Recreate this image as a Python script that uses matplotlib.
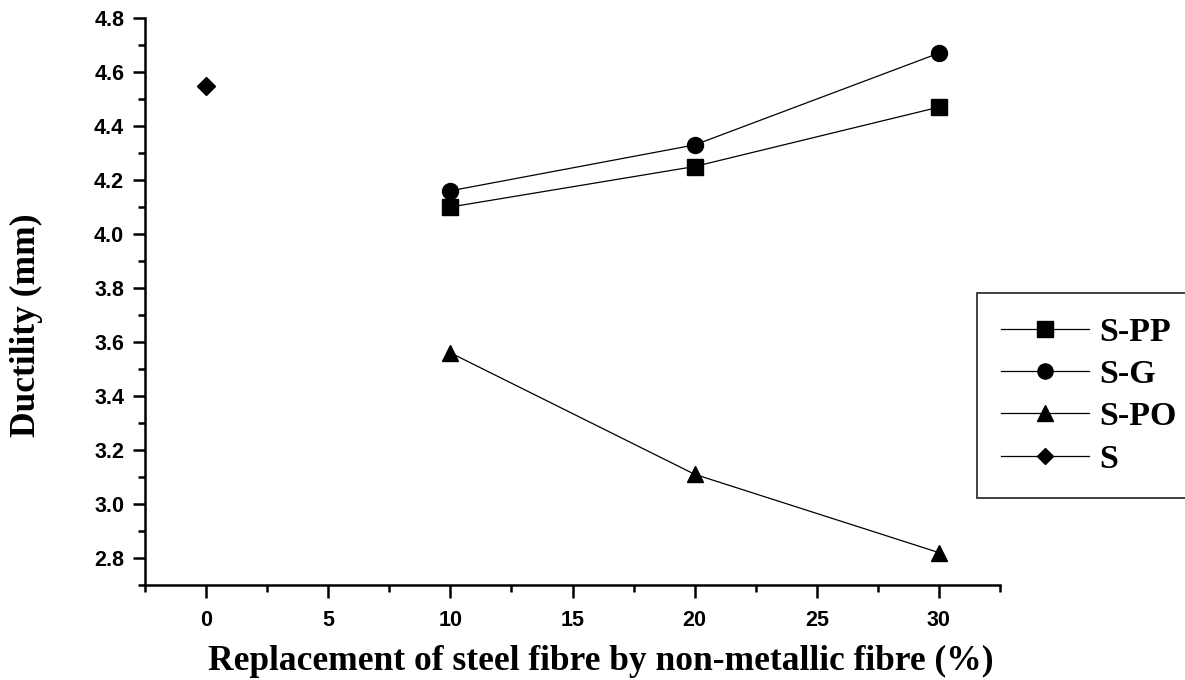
import numpy as np
import matplotlib.pyplot as plt

# data
x_fibre = [10, 20, 30]
s_pp = [4.10, 4.25, 4.47]
s_g = [4.16, 4.33, 4.67]
s_po = [3.56, 3.11, 2.82]
x_s = [0]
s_only = [4.55]

plt.rcParams["font.family"] = "Liberation Sans"
plt.rcParams["font.weight"] = "bold"

fig = plt.figure(figsize=(11.85, 6.8), dpi=100)
ax = fig.add_axes([0.1224, 0.1397, 0.7215, 0.8338])

kw = dict(color="black", lw=0.9, markersize=11.5)
ax.plot(x_fibre, s_pp, marker="s", label="S-PP", **kw)
ax.plot(x_fibre, s_g, marker="o", label="S-G", **kw)
ax.plot(x_fibre, s_po, marker="^", label="S-PO", **kw)
ax.plot(x_s, s_only, marker="D", label="S", color="black", lw=0.9, markersize=9)

ax.set_xlim(-2.5, 32.5)
ax.set_ylim(2.7, 4.8)
ax.set_xticks(np.arange(0, 31, 5))
ax.set_xticks(np.arange(-2.5, 32.6, 2.5), minor=True)
ax.set_yticks(np.arange(2.8, 4.81, 0.2))
ax.set_yticks(np.arange(2.7, 4.81, 0.1), minor=True)
ax.yaxis.set_major_formatter(plt.FormatStrFormatter("%.1f"))

for s in ["top", "right"]:
    ax.spines[s].set_visible(False)
for s in ["left", "bottom"]:
    ax.spines[s].set_linewidth(1.8)

ax.tick_params(which="major", direction="out", length=9, width=1.8, labelsize=15.5)
ax.tick_params(which="minor", direction="out", length=5, width=1.8)
ax.tick_params(axis="x", which="major", pad=9)
ax.tick_params(axis="y", which="major", pad=6)

ax.set_xlabel("Replacement of steel fibre by non-metallic fibre (%)",
              fontfamily="Liberation Serif", fontweight="bold", fontsize=25.5)
ax.set_ylabel("Ductility (mm)", fontfamily="Liberation Serif", fontweight="bold",
              fontsize=25.5)
ax.xaxis.set_label_coords(0.533, -0.106)
ax.yaxis.set_label_coords(-0.119, 0.459)

leg = fig.legend(loc="upper left", bbox_to_anchor=(977 / 1185, 1 - 293 / 680),
                 prop={"family": "Liberation Serif", "weight": "bold", "size": 24.5},
                 frameon=True, fancybox=False, edgecolor="black", handlelength=2.6,
                 borderpad=0.7, labelspacing=0.33, handletextpad=0.3, borderaxespad=0,
                 markerscale=0.95)
leg.get_frame().set_linewidth(1.3)

fig.savefig("out.png", dpi=100)
